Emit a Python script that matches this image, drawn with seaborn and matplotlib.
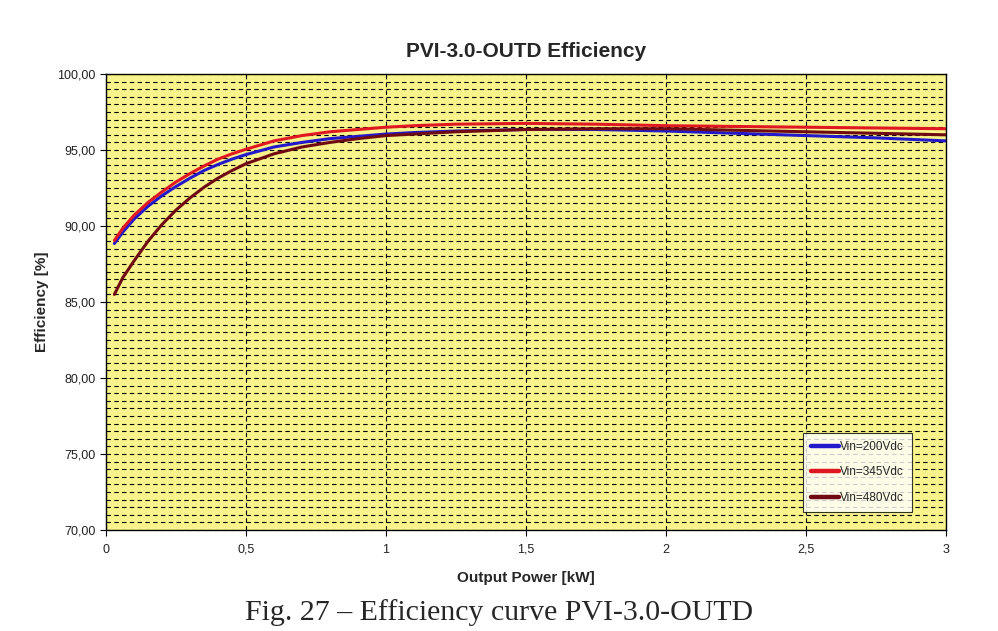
import numpy as np
import pandas as pd
import matplotlib
matplotlib.use("Agg")
import matplotlib.pyplot as plt
import seaborn as sns
from matplotlib.ticker import MultipleLocator, FuncFormatter

# output power [kW] sample points
power = [0.03, 0.06, 0.1, 0.15, 0.2, 0.25, 0.3, 0.35, 0.4, 0.45, 0.5, 0.6, 0.7, 0.8, 0.9, 1.0,
         1.1, 1.25, 1.5, 1.75, 2.0, 2.25, 2.5, 2.75, 3.0]

eff_200 = [88.85, 89.6, 90.45, 91.3, 92.0, 92.6, 93.15, 93.65, 94.05, 94.4, 94.7, 95.2, 95.5, 95.75, 95.9, 96.05,
           96.15, 96.25, 96.35, 96.35, 96.25, 96.1, 95.95, 95.8, 95.6]
eff_345 = [89.05, 89.85, 90.7, 91.55, 92.25, 92.9, 93.45, 93.95, 94.4, 94.75, 95.05, 95.6, 95.95, 96.2, 96.35, 96.5,
           96.6, 96.7, 96.75, 96.7, 96.6, 96.55, 96.5, 96.45, 96.4]
eff_480 = [85.5, 86.6, 87.7, 89.0, 90.1, 91.05, 91.85, 92.55, 93.15, 93.65, 94.1, 94.75, 95.2, 95.5, 95.75, 95.95,
           96.05, 96.2, 96.35, 96.4, 96.4, 96.3, 96.2, 96.1, 96.0]

series_names = ["Vin=200Vdc", "Vin=345Vdc", "Vin=480Vdc"]
series_colors = ["#2418cc", "#e01822", "#700a12"]

df = pd.DataFrame({
    "power": power * 3,
    "eff": eff_200 + eff_345 + eff_480,
    "series": [series_names[0]] * len(power) + [series_names[1]] * len(power) + [series_names[2]] * len(power),
})

sns.set_style("ticks")
plt.rcParams["font.family"] = ["Liberation Sans", "DejaVu Sans"]

fig = plt.figure(figsize=(9.98, 6.31), dpi=100)
ax = fig.add_axes([0.1062, 0.160, 0.8417, 0.7227])
ax.set_facecolor("#f8f38a")

sns.lineplot(data=df, x="power", y="eff", hue="series", palette=series_colors,
             linewidth=2.2, ax=ax, legend=True)

ax.set_xlim(0, 3)
ax.set_ylim(70, 100)
ax.xaxis.set_major_locator(MultipleLocator(0.5))
ax.yaxis.set_major_locator(MultipleLocator(5))
ax.yaxis.set_minor_locator(MultipleLocator(0.5))

ax.yaxis.set_major_formatter(FuncFormatter(lambda v, p: f"{v:.2f}".replace(".", ",")))
ax.xaxis.set_major_formatter(FuncFormatter(lambda v, p: f"{v:g}".replace(".", ",")))

ax.grid(which="major", axis="both", color="black", linestyle=(0, (4, 3)), linewidth=0.8)
ax.grid(which="minor", axis="y", color="black", linestyle=(0, (4, 3)), linewidth=0.8)
ax.tick_params(axis="y", which="minor", length=0)
ax.tick_params(axis="both", which="major", labelsize=9, length=4, color="black", labelcolor="#222222")
ax.tick_params(axis="x", which="major", pad=6)
for s in ax.spines.values():
    s.set_color("black")
    s.set_linewidth(1.0)

ax.set_xlabel("Output Power [kW]", fontsize=11, fontweight="bold", labelpad=11)
ax.set_ylabel("Efficiency [%]", fontsize=11, fontweight="bold", labelpad=6)
ax.set_title("PVI-3.0-OUTD Efficiency", fontsize=15, fontweight="bold", pad=12)

leg = ax.legend(title=None, loc="lower right", bbox_to_anchor=(0.9595, 0.039), fontsize=8.5,
                frameon=True, fancybox=False, edgecolor="black", handlelength=2.4,
                labelspacing=1.15, borderpad=0.7, handletextpad=0.05, borderaxespad=0)
leg.get_frame().set_linewidth(0.8)
for line in leg.get_lines():
    line.set_linewidth(3.2)

fig.text(0.50, 0.03, "Fig. 27 \u2013 Efficiency curve PVI-3.0-OUTD", ha="center", va="center",
         fontsize=21.5, family=["Liberation Serif", "DejaVu Serif"])

fig.savefig("out.png", dpi=100, facecolor="white")
